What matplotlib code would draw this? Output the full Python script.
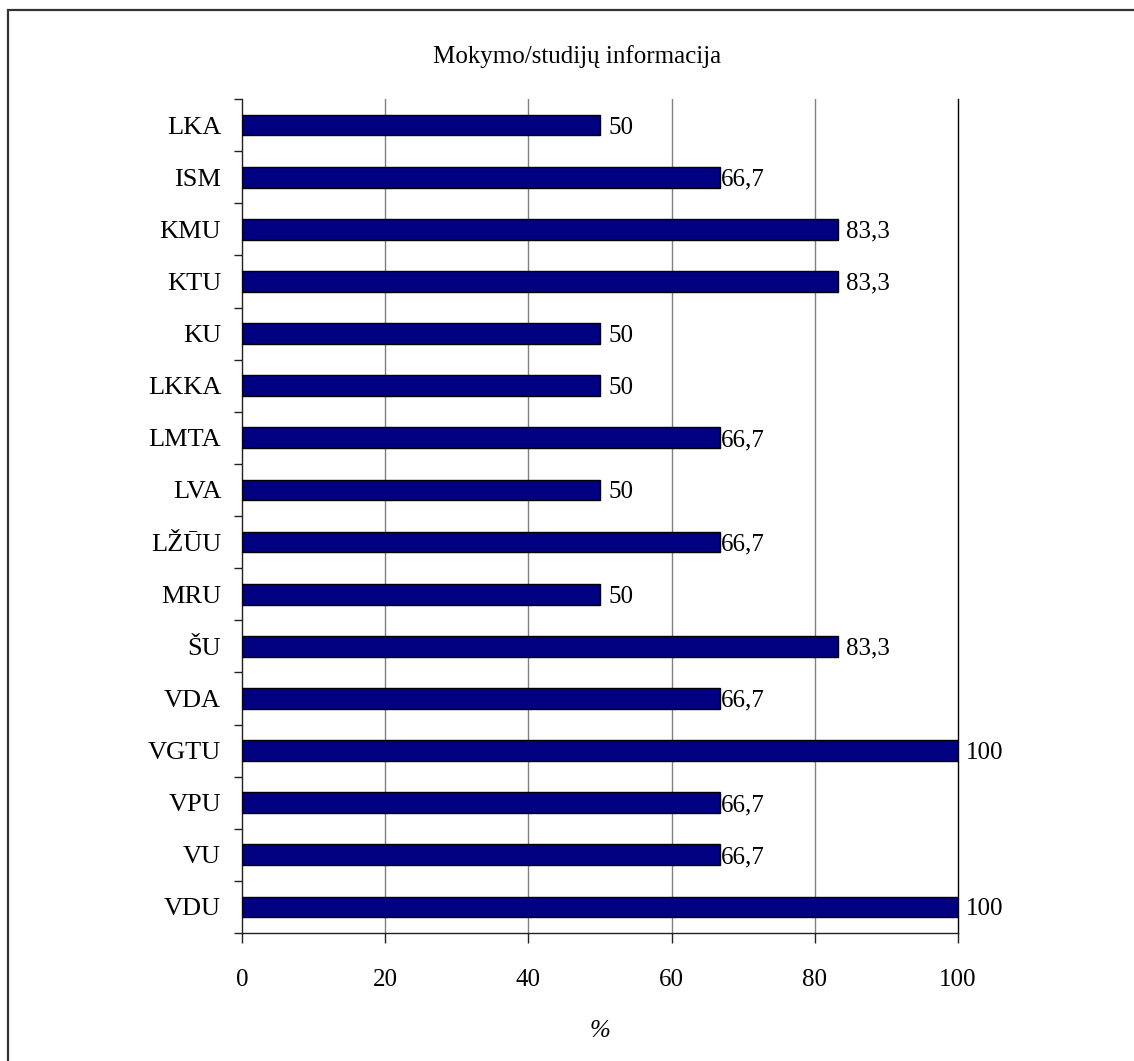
import matplotlib
matplotlib.use("Agg")
import matplotlib.pyplot as plt
from matplotlib.patches import Rectangle
import numpy as np

# Institutions (top to bottom) and their scores in %
institutions = ["LKA", "ISM", "KMU", "KTU", "KU", "LKKA", "LMTA", "LVA",
                "LŽŪU", "MRU", "ŠU", "VDA", "VGTU", "VPU", "VU", "VDU"]
values = [50, 66.7, 83.3, 83.3, 50, 50, 66.7, 50,
          66.7, 50, 83.3, 66.7, 100, 66.7, 66.7, 100]
value_labels = ["50", "66,7", "83,3", "83,3", "50", "50", "66,7", "50",
                "66,7", "50", "83,3", "66,7", "100", "66,7", "66,7", "100"]
x_ticks = [0, 20, 40, 60, 80, 100]
title = "Mokymo/studijų informacija"
x_label = "%"

plt.rcParams["font.family"] = ["Liberation Serif", "DejaVu Serif"]

W, H = 1134, 1061
PX = 72 / 100  # points per pixel at dpi 100
fig = plt.figure(figsize=(W / 100, H / 100), dpi=100)
fig.patch.set_facecolor("white")

# outer chart frame
fig.patches.append(Rectangle((8 / W, -0.05), 1.2, 1.05 - 9.5 / H,
                             transform=fig.transFigure, fill=False,
                             edgecolor="#333333", linewidth=1.6, zorder=0))

left, right, top, bottom = 242 / W, 958 / W, 1 - 99 / H, 1 - 933 / H
ax = fig.add_axes([left, bottom, right - left, top - bottom])

n = len(institutions)
pos = np.arange(n)
ax.barh(pos, values, height=0.40, color="#000080", edgecolor="black",
        linewidth=1.0, zorder=3)
ax.set_ylim(n - 0.5, -0.5)
ax.set_xlim(0, 100)

# vertical gridlines
for xv in x_ticks[1:-1]:
    ax.axvline(xv, color="#808080", linewidth=1.0, zorder=1)
ax.axvline(100, color="black", linewidth=1.0, zorder=1, clip_on=False)

# value labels just past the bar ends
for p, v, lab in zip(pos, values, value_labels):
    gap = 1 if lab == "66,7" else 8
    ax.annotate(lab, xy=(v, p), xytext=(gap * PX, 0), textcoords="offset points",
                ha="left", va="center_baseline", fontsize=18, color="black",
                zorder=4)

# y axis: labels at bar centers, ticks between categories
ax.set_yticks(pos)
ax.set_yticklabels(institutions, fontsize=19)
ax.tick_params(axis="y", which="major", length=0, pad=15)
ax.set_yticks(np.arange(n + 1) - 0.5, minor=True)
ax.tick_params(axis="y", which="minor", length=8 * PX, width=1.0,
               direction="out", color="#222222")

ax.set_xticks(x_ticks)
ax.set_xticklabels([str(t) for t in x_ticks], fontsize=18)
ax.tick_params(axis="x", length=10 * PX, width=1.0, direction="out", pad=19,
               color="#222222")

for s in ["top", "right"]:
    ax.spines[s].set_visible(False)
for s in ["left", "bottom"]:
    ax.spines[s].set_color("#222222")
    ax.spines[s].set_linewidth(1.0)

ax.set_xlabel(x_label, fontsize=18, style="italic")
ax.xaxis.set_label_coords(0.5, -(1031 - 933) / (933 - 99))
ax.xaxis.label.set_va("center")

fig.text(577 / W, 1 - 57 / H, title, ha="center", va="center", fontsize=18)

fig.savefig("out.png", dpi=100, facecolor="white")
